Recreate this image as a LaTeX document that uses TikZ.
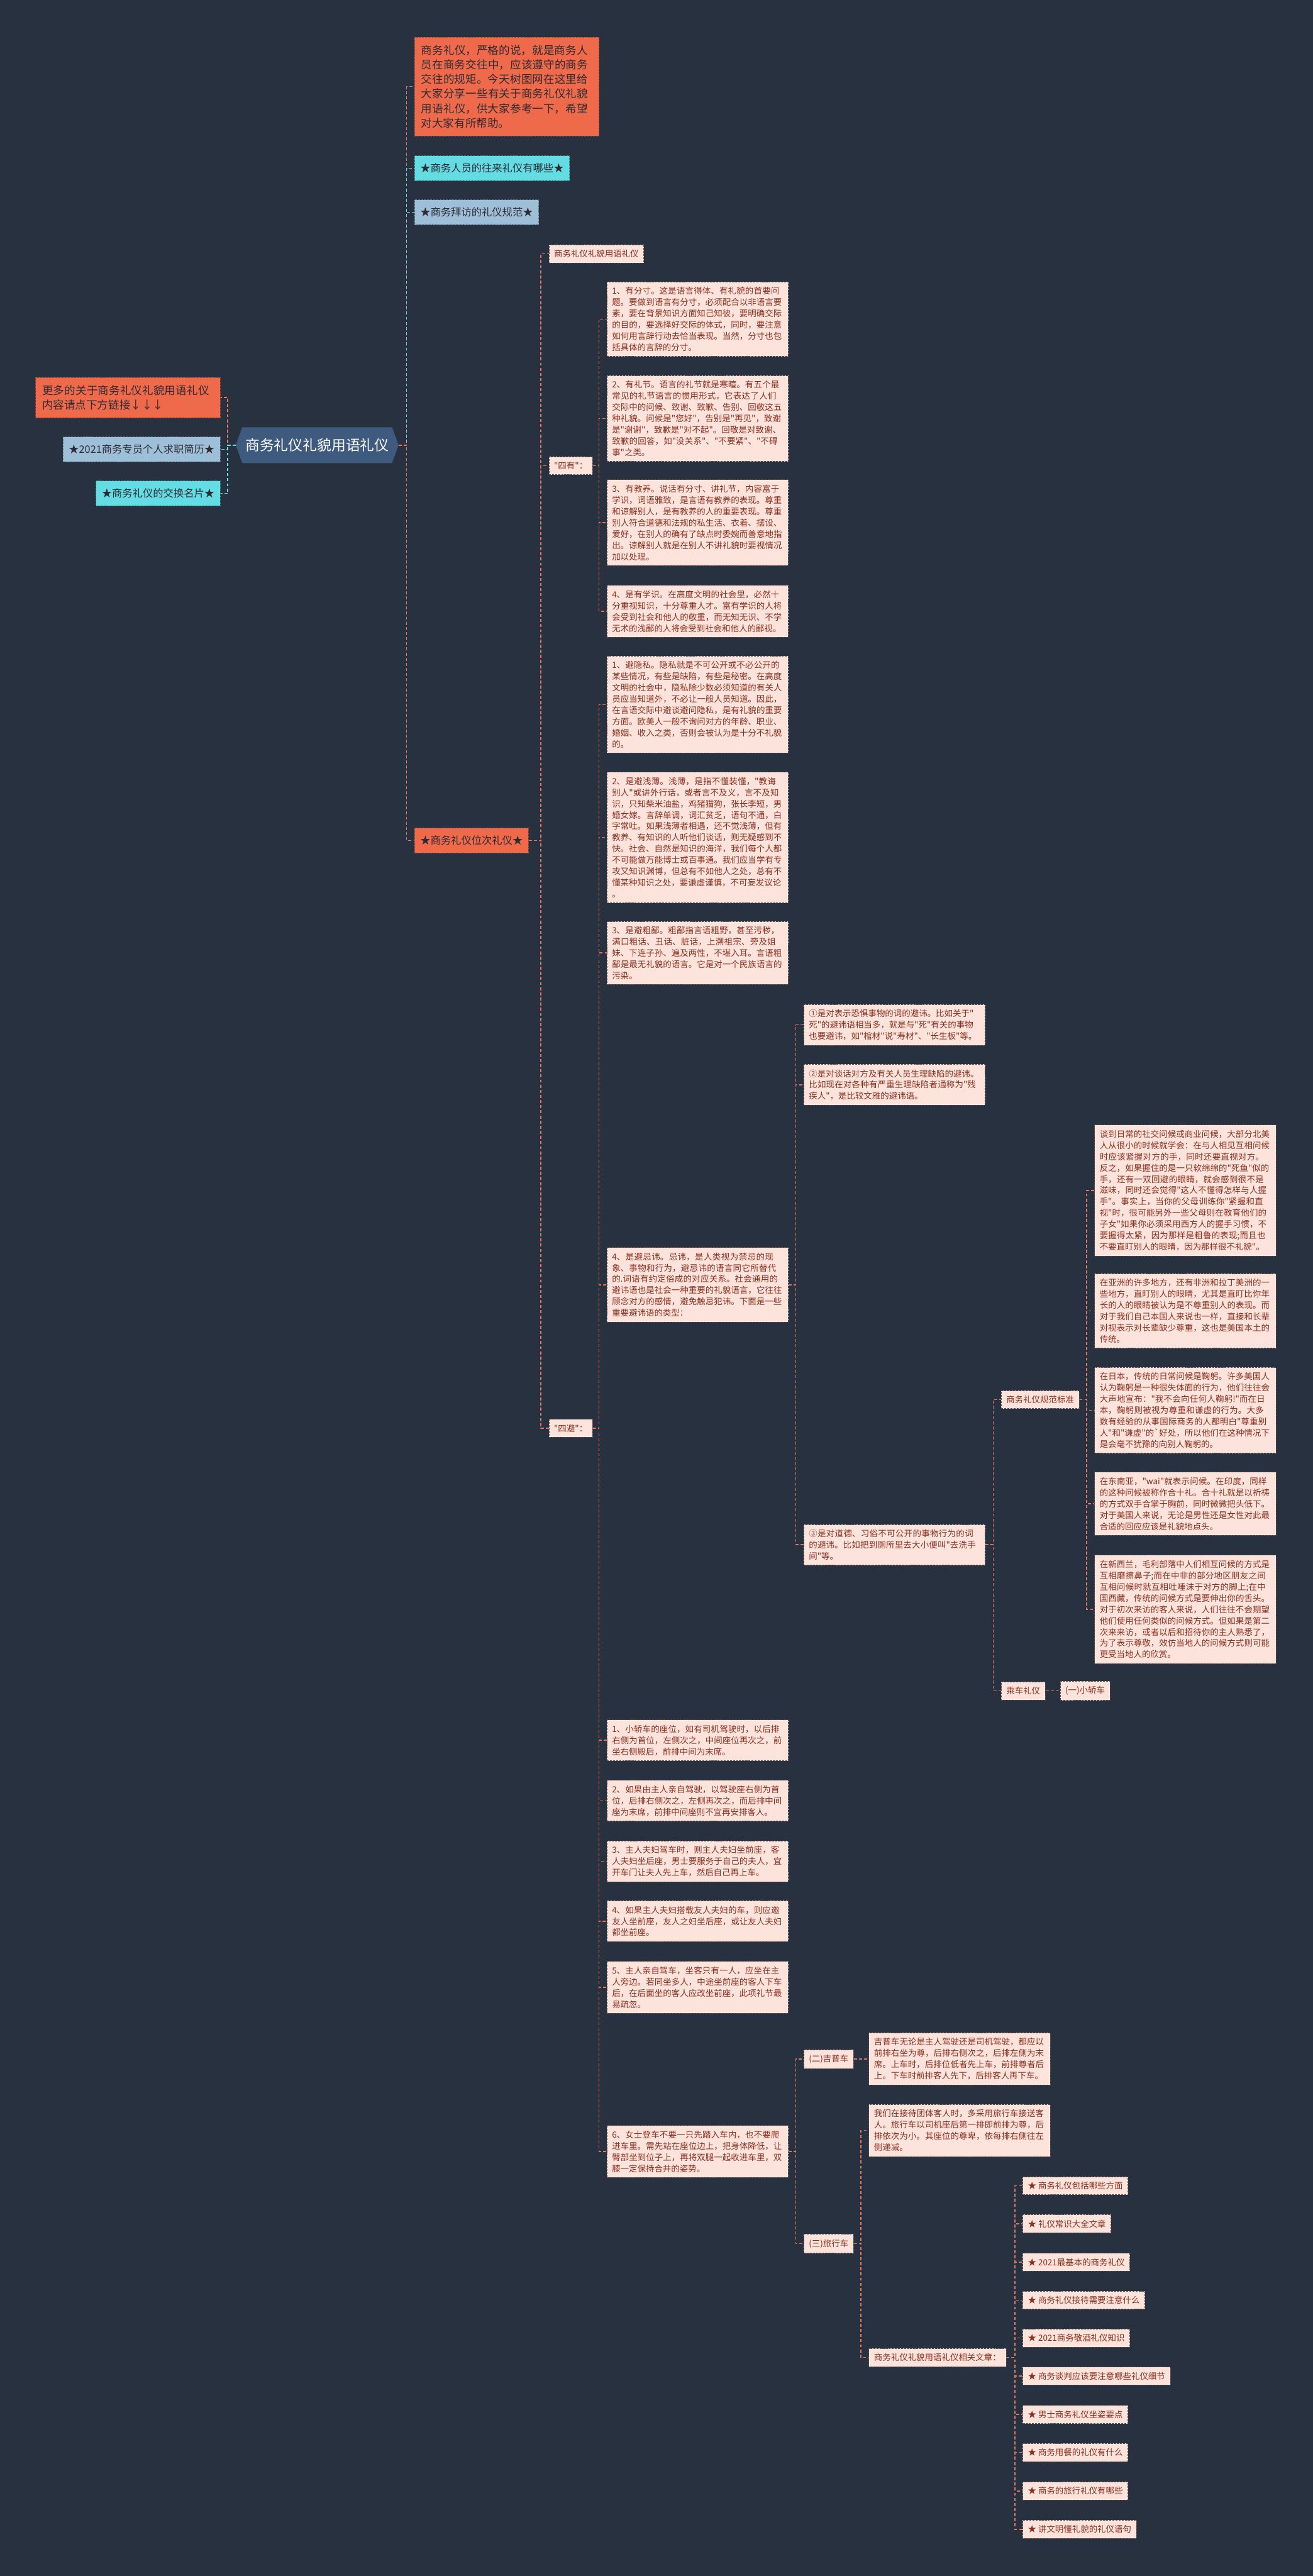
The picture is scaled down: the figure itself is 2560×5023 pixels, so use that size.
\documentclass[tikz,border=0pt]{standalone}
\usepackage{fontspec}
\newfontfamily\cjkfont{Noto Sans CJK SC}
\XeTeXlinebreaklocale "zh"
\XeTeXlinebreakskip = 0pt plus 1pt
\usetikzlibrary{shapes.symbols}

\definecolor{bgc}{HTML}{283140}
\definecolor{rootc}{HTML}{3E5A7E}
\definecolor{orangec}{HTML}{EE6A4B}
\definecolor{cyanc}{HTML}{63DDE3}
\definecolor{bluec}{HTML}{9EBFD8}
\definecolor{pinkc}{HTML}{FCE4DC}
\definecolor{pinktext}{HTML}{8A2E1E}
\definecolor{pinkline}{HTML}{5C4E4E}
\definecolor{darktext}{HTML}{2E2A33}
\definecolor{linkc}{HTML}{E0775C}

\tikzset{
  rootbox/.style={signal, signal to=east and west, signal pointer angle=140,
    fill=rootc, text=white, font=\cjkfont\fontsize{28}{34}\selectfont,
    inner xsep=6pt, inner ysep=0pt, minimum height=70pt},
  bigbox/.style={draw, dash pattern=on 4pt off 2pt, line width=1pt, text=darktext,
    font=\cjkfont\fontsize{21.5}{28.5}\selectfont, inner xsep=13pt, inner ysep=15pt},
  orangepara/.style={bigbox, fill=orangec, draw=orangec!70!black, text width=334pt, align=left},
  starbox/.style={bigbox, font=\cjkfont\fontsize{20}{24}\selectfont, inner xsep=11pt},
  orangestar/.style={starbox, fill=orangec, draw=orangec!70!black},
  cyanstar/.style={starbox, fill=cyanc, draw=cyanc!60!black},
  bluestar/.style={starbox, fill=bluec, draw=bluec!60!black},
  pinkbox/.style={draw=pinkline, fill=pinkc, dash pattern=on 4pt off 2pt, line width=1pt,
    text=pinktext, font=\cjkfont\fontsize{16.5}{22}\selectfont, inner xsep=10pt, inner ysep=10pt},
  pinkpara/.style={pinkbox, text width=334pt, align=left},
  link/.style={draw=linkc, line width=2pt, dash pattern=on 6pt off 4pt},
  cyanlink/.style={link, draw=cyanc},
  bluelink/.style={link, draw=bluec}
}

\begin{document}
\begin{tikzpicture}[x=1pt, y=-1pt]
    \fill [bgc] (0,0) rectangle (2560,5023);

    \node [rootbox] (root) at (618.5,868) {商务礼仪礼貌用语礼仪};

    \node [orangepara, anchor=east] (more) at (430,775) {更多的关于商务礼仪礼貌用语礼仪内容请点下方链接↓↓↓};
    \node [bluestar, anchor=east] (resume) at (430,876) {★2021商务专员个人求职简历★};
    \node [cyanstar, anchor=east] (card) at (430,962) {★商务礼仪的交换名片★};

    \node [orangepara, anchor=north west] (intro) at (808,72) {商务礼仪，严格的说，就是商务人员在商务交往中，应该遵守的商务交往的规矩。今天树图网在这里给大家分享一些有关于商务礼仪礼貌用语礼仪，供大家参考一下，希望对大家有所帮助。};
    \node [cyanstar, anchor=west] (contact) at (808,328) {★商务人员的往来礼仪有哪些★};
    \node [bluestar, anchor=west] (visit) at (808,414) {★商务拜访的礼仪规范★};
    \node [orangestar, anchor=west] (rank) at (808,1639) {★商务礼仪位次礼仪★};

    \node [pinkbox, anchor=west] (title) at (1070,495) {商务礼仪礼貌用语礼仪};
    \node [pinkbox, anchor=west] (siyou) at (1070,908) {"四有"：};
    \node [pinkbox, anchor=west] (sibi) at (1070,2785) {"四避"：};

    \node [pinkpara, anchor=north west] (you1) at (1183,549) {1、有分寸。这是语言得体、有礼貌的首要问题。要做到语言有分寸，必须配合以非语言要素，要在背景知识方面知己知彼，要明确交际的目的，要选择好交际的体式，同时，要注意如何用言辞行动去恰当表现。当然，分寸也包括具体的言辞的分寸。};
    \node [pinkpara, anchor=north west] (you2) at (1183,732) {2、有礼节。语言的礼节就是寒暄。有五个最常见的礼节语言的惯用形式，它表达了人们交际中的问候、致谢、致歉、告别、回敬这五种礼貌。问候是"您好"，告别是"再见"，致谢是"谢谢"，致歉是"对不起"。回敬是对致谢、致歉的回答，如"没关系"、"不要紧"、"不碍事"之类。};
    \node [pinkpara, anchor=north west] (you3) at (1183,935) {3、有教养。说话有分寸、讲礼节，内容富于学识，词语雅致，是言语有教养的表现。尊重和谅解别人，是有教养的人的重要表现。尊重别人符合道德和法规的私生活、衣着、摆设、爱好，在别人的确有了缺点时委婉而善意地指出。谅解别人就是在别人不讲礼貌时要视情况加以处理。};
    \node [pinkpara, anchor=north west] (you4) at (1183,1141) {4、是有学识。在高度文明的社会里，必然十分重视知识，十分尊重人才。富有学识的人将会受到社会和他人的敬重，而无知无识、不学无术的浅鄙的人将会受到社会和他人的鄙视。};

    \node [pinkpara, anchor=north west] (bi1) at (1183,1279) {1、避隐私。隐私就是不可公开或不必公开的某些情况，有些是缺陷，有些是秘密。在高度文明的社会中，隐私除少数必须知道的有关人员应当知道外，不必让一般人员知道。因此，在言语交际中避谈避问隐私，是有礼貌的重要方面。欧美人一般不询问对方的年龄、职业、婚姻、收入之类，否则会被认为是十分不礼貌的。};
    \node [pinkpara, anchor=north west] (bi2) at (1183,1505) {2、是避浅薄。浅薄，是指不懂装懂，"教诲别人"或讲外行话，或者言不及义，言不及知识，只知柴米油盐，鸡猪猫狗，张长李短，男婚女嫁。言辞单调，词汇贫乏，语句不通，白字常吐。如果浅薄者相遇，还不觉浅薄，但有教养、有知识的人听他们谈话，则无疑感到不快。社会、自然是知识的海洋，我们每个人都不可能做万能博士或百事通。我们应当学有专攻又知识渊博，但总有不如他人之处，总有不懂某种知识之处，要谦虚谨慎，不可妄发议论\\。};
    \node [pinkpara, anchor=north west] (bi3) at (1183,1796) {3、是避粗鄙。粗鄙指言语粗野，甚至污秽，满口粗话、丑话、脏话，上溯祖宗、旁及姐妹、下连子孙、遍及两性，不堪入耳。言语粗鄙是最无礼貌的语言。它是对一个民族语言的污染。};
    \node [pinkpara, anchor=north west] (bi4) at (1183,2432) {4、是避忌讳。忌讳，是人类视为禁忌的现象、事物和行为，避忌讳的语言同它所替代的.词语有约定俗成的对应关系。社会通用的避讳语也是社会一种重要的礼貌语言，它往往顾念对方的感情，避免触忌犯讳。下面是一些重要避讳语的类型：};
    \node [pinkpara, anchor=north west] (sedan1) at (1183,3353) {1、小轿车的座位，如有司机驾驶时，以后排右侧为首位，左侧次之，中间座位再次之，前坐右侧殿后，前排中间为末席。};
    \node [pinkpara, anchor=north west] (sedan2) at (1183,3471) {2、如果由主人亲自驾驶，以驾驶座右侧为首位，后排右侧次之，左侧再次之，而后排中间座为末席，前排中间座则不宜再安排客人。};
    \node [pinkpara, anchor=north west] (sedan3) at (1183,3589) {3、主人夫妇驾车时，则主人夫妇坐前座，客人夫妇坐后座，男士要服务于自己的夫人，宜开车门让夫人先上车，然后自己再上车。};
    \node [pinkpara, anchor=north west] (sedan4) at (1183,3706) {4、如果主人夫妇搭载友人夫妇的车，则应邀友人坐前座，友人之妇坐后座，或让友人夫妇都坐前座。};
    \node [pinkpara, anchor=north west] (sedan5) at (1183,3824) {5、主人亲自驾车，坐客只有一人，应坐在主人旁边。若同坐多人，中途坐前座的客人下车后，在后面坐的客人应改坐前座，此项礼节最易疏忽。};
    \node [pinkpara, anchor=north west] (sedan6) at (1183,4144) {6、女士登车不要一只先踏入车内，也不要爬进车里。需先站在座位边上，把身体降低，让臀部坐到位子上，再将双腿一起收进车里，双膝一定保持合并的姿势。};

    \node [pinkpara, anchor=north west] (taboo1) at (1567,1958) {①是对表示恐惧事物的词的避讳。比如关于"\\死"的避讳语相当多，就是与"死"有关的事物\\也要避讳，如"棺材"说"寿材"、"长生板"等。};
    \node [pinkpara, anchor=north west] (taboo2) at (1567,2075) {②是对谈话对方及有关人员生理缺陷的避讳。比如现在对各种有严重生理缺陷者通称为"残疾人"，是比较文雅的避讳语。};
    \node [pinkpara, anchor=north west] (taboo3) at (1567,2972) {③是对道德、习俗不可公开的事物行为的词的避讳。比如把到厕所里去大小便叫"去洗手间"等。};

    \node [pinkbox, anchor=west] (norm) at (1952,2729) {商务礼仪规范标准};
    \node [pinkbox, anchor=west] (ride) at (1952,3297) {乘车礼仪};
    \node [pinkbox, anchor=west] (sedan) at (2067,3297) {(一)小轿车};

    \node [pinkpara, anchor=north west] (greet1) at (2134,2193) {谈到日常的社交问候或商业问候，大部分北美人从很小的时候就学会：在与人相见互相问候时应该紧握对方的手，同时还要直视对方。反之，如果握住的是一只软绵绵的"死鱼"似的手，还有一双回避的眼睛，就会感到很不是滋味，同时还会觉得"这人不懂得怎样与人握手"。事实上，当你的父母训练你"紧握和直视"时，很可能另外一些父母则在教育他们的子女"如果你必须采用西方人的握手习惯，不要握得太紧，因为那样是粗鲁的表现;而且也不要直盯别人的眼睛，因为那样很不礼貌"。};
    \node [pinkpara, anchor=north west] (greet2) at (2134,2483) {在亚洲的许多地方，还有非洲和拉丁美洲的一些地方，直盯别人的眼睛，尤其是直盯比你年长的人的眼睛被认为是不尊重别人的表现。而对于我们自己本国人来说也一样，直接和长辈对视表示对长辈缺少尊重，这也是美国本土的传统。};
    \node [pinkpara, anchor=north west] (greet3) at (2134,2666) {在日本，传统的日常问候是鞠躬。许多美国人认为鞠躬是一种很失体面的行为，他们往往会大声地宣布："我不会向任何人鞠躬!"而在日本，鞠躬则被视为尊重和谦虚的行为。大多数有经验的从事国际商务的人都明白"尊重别人"和"谦虚"的`好处，所以他们在这种情况下是会毫不犹豫的向别人鞠躬的。};
    \node [pinkpara, anchor=north west] (greet4) at (2134,2870) {在东南亚，"wai"就表示问候。在印度，同样的这种问候被称作合十礼。合十礼就是以祈祷的方式双手合掌于胸前，同时微微把头低下。对于美国人来说，无论是男性还是女性对此最合适的回应应该是礼貌地点头。};
    \node [pinkpara, anchor=north west] (greet5) at (2134,3032) {在新西兰，毛利部落中人们相互问候的方式是互相磨擦鼻子;而在中非的部分地区朋友之间互相问候时就互相吐唾沫于对方的脚上;在中国西藏，传统的问候方式是要伸出你的舌头。对于初次来访的客人来说，人们往往不会期望他们使用任何类似的问候方式。但如果是第二次来来访，或者以后和招待你的主人熟悉了，为了表示尊敬，效仿当地人的问候方式则可能更受当地人的欣赏。};

    \node [pinkbox, anchor=west] (jeep) at (1567,4015) {(二)吉普车};
    \node [pinkbox, anchor=west] (coach) at (1567,4375) {(三)旅行车};
    \node [pinkpara, anchor=north west] (jeeptext) at (1694,3963) {吉普车无论是主人驾驶还是司机驾驶，都应以前排右坐为尊，后排右侧次之，后排左侧为末席。上车时，后排位低者先上车，前排尊者后上。下车时前排客人先下，后排客人再下车。};
    \node [pinkpara, anchor=north west] (coachtext) at (1694,4103) {我们在接待团体客人时，多采用旅行车接送客人。旅行车以司机座后第一排即前排为尊，后排依次为小。其座位的尊卑，依每排右侧往左侧递减。};
    \node [pinkbox, anchor=west] (related) at (1694,4597) {商务礼仪礼貌用语礼仪相关文章：};

    \node [pinkbox, anchor=west] (art1) at (1994,4262) {★ 商务礼仪包括哪些方面};
    \node [pinkbox, anchor=west] (art2) at (1994,4336) {★ 礼仪常识大全文章};
    \node [pinkbox, anchor=west] (art3) at (1994,4411) {★ 2021最基本的商务礼仪};
    \node [pinkbox, anchor=west] (art4) at (1994,4485) {★ 商务礼仪接待需要注意什么};
    \node [pinkbox, anchor=west] (art5) at (1994,4559) {★ 2021商务敬酒礼仪知识};
    \node [pinkbox, anchor=west] (art6) at (1994,4633) {★ 商务谈判应该要注意哪些礼仪细节};
    \node [pinkbox, anchor=west] (art7) at (1994,4708) {★ 男士商务礼仪坐姿要点};
    \node [pinkbox, anchor=west] (art8) at (1994,4782) {★ 商务用餐的礼仪有什么};
    \node [pinkbox, anchor=west] (art9) at (1994,4857) {★ 商务的旅行礼仪有哪些};
    \node [pinkbox, anchor=west] (art10) at (1994,4932) {★ 讲文明懂礼貌的礼仪语句};

    \draw [link] (root.west) -| ([xshift=14pt]more.east) -- (more.east);
    \draw [bluelink] (root.west) -| ([xshift=14pt]resume.east) -- (resume.east);
    \draw [cyanlink] (root.west) -| ([xshift=14pt]card.east) -- (card.east);

    \draw [link] (root.east) -| ([xshift=-15pt]intro.west) -- (intro.west);
    \draw [cyanlink] (root.east) -| ([xshift=-15pt]contact.west) -- (contact.west);
    \draw [bluelink] (root.east) -| ([xshift=-15pt]visit.west) -- (visit.west);
    \draw [link] (root.east) -| ([xshift=-15pt]rank.west) -- (rank.west);

    \draw [link] (rank.east) -| ([xshift=-15pt]title.west) -- (title.west);
    \draw [link] (rank.east) -| ([xshift=-15pt]siyou.west) -- (siyou.west);
    \draw [link] (rank.east) -| ([xshift=-15pt]sibi.west) -- (sibi.west);

    \draw [link] (siyou.east) -| ([xshift=-15pt]you1.west) -- (you1.west);
    \draw [link] (siyou.east) -| ([xshift=-15pt]you2.west) -- (you2.west);
    \draw [link] (siyou.east) -| ([xshift=-15pt]you3.west) -- (you3.west);
    \draw [link] (siyou.east) -| ([xshift=-15pt]you4.west) -- (you4.west);

    \draw [link] (sibi.east) -| ([xshift=-15pt]bi1.west) -- (bi1.west);
    \draw [link] (sibi.east) -| ([xshift=-15pt]bi2.west) -- (bi2.west);
    \draw [link] (sibi.east) -| ([xshift=-15pt]bi3.west) -- (bi3.west);
    \draw [link] (sibi.east) -| ([xshift=-15pt]bi4.west) -- (bi4.west);
    \draw [link] (sibi.east) -| ([xshift=-15pt]sedan1.west) -- (sedan1.west);
    \draw [link] (sibi.east) -| ([xshift=-15pt]sedan2.west) -- (sedan2.west);
    \draw [link] (sibi.east) -| ([xshift=-15pt]sedan3.west) -- (sedan3.west);
    \draw [link] (sibi.east) -| ([xshift=-15pt]sedan4.west) -- (sedan4.west);
    \draw [link] (sibi.east) -| ([xshift=-15pt]sedan5.west) -- (sedan5.west);
    \draw [link] (sibi.east) -| ([xshift=-15pt]sedan6.west) -- (sedan6.west);

    \draw [link] (bi4.east) -| ([xshift=-15pt]taboo1.west) -- (taboo1.west);
    \draw [link] (bi4.east) -| ([xshift=-15pt]taboo2.west) -- (taboo2.west);
    \draw [link] (bi4.east) -| ([xshift=-15pt]taboo3.west) -- (taboo3.west);

    \draw [link] (taboo3.east) -| ([xshift=-15pt]norm.west) -- (norm.west);
    \draw [link] (taboo3.east) -| ([xshift=-15pt]ride.west) -- (ride.west);
    \draw [link] (ride.east) -- (sedan.west);

    \draw [link] (norm.east) -| ([xshift=-15pt]greet1.west) -- (greet1.west);
    \draw [link] (norm.east) -| ([xshift=-15pt]greet2.west) -- (greet2.west);
    \draw [link] (norm.east) -| ([xshift=-15pt]greet3.west) -- (greet3.west);
    \draw [link] (norm.east) -| ([xshift=-15pt]greet4.west) -- (greet4.west);
    \draw [link] (norm.east) -| ([xshift=-15pt]greet5.west) -- (greet5.west);

    \draw [link] (sedan6.east) -| ([xshift=-15pt]jeep.west) -- (jeep.west);
    \draw [link] (sedan6.east) -| ([xshift=-15pt]coach.west) -- (coach.west);
    \draw [link] (jeep.east) -- (jeep.east -| jeeptext.west);
    \draw [link] (coach.east) -| ([xshift=-15pt]coachtext.west) -- (coachtext.west);
    \draw [link] (coach.east) -| ([xshift=-15pt]related.west) -- (related.west);

    \draw [link] (related.east) -| ([xshift=-15pt]art1.west) -- (art1.west);
    \draw [link] (related.east) -| ([xshift=-15pt]art2.west) -- (art2.west);
    \draw [link] (related.east) -| ([xshift=-15pt]art3.west) -- (art3.west);
    \draw [link] (related.east) -| ([xshift=-15pt]art4.west) -- (art4.west);
    \draw [link] (related.east) -| ([xshift=-15pt]art5.west) -- (art5.west);
    \draw [link] (related.east) -| ([xshift=-15pt]art6.west) -- (art6.west);
    \draw [link] (related.east) -| ([xshift=-15pt]art7.west) -- (art7.west);
    \draw [link] (related.east) -| ([xshift=-15pt]art8.west) -- (art8.west);
    \draw [link] (related.east) -| ([xshift=-15pt]art9.west) -- (art9.west);
    \draw [link] (related.east) -| ([xshift=-15pt]art10.west) -- (art10.west);
\end{tikzpicture}
\end{document}
